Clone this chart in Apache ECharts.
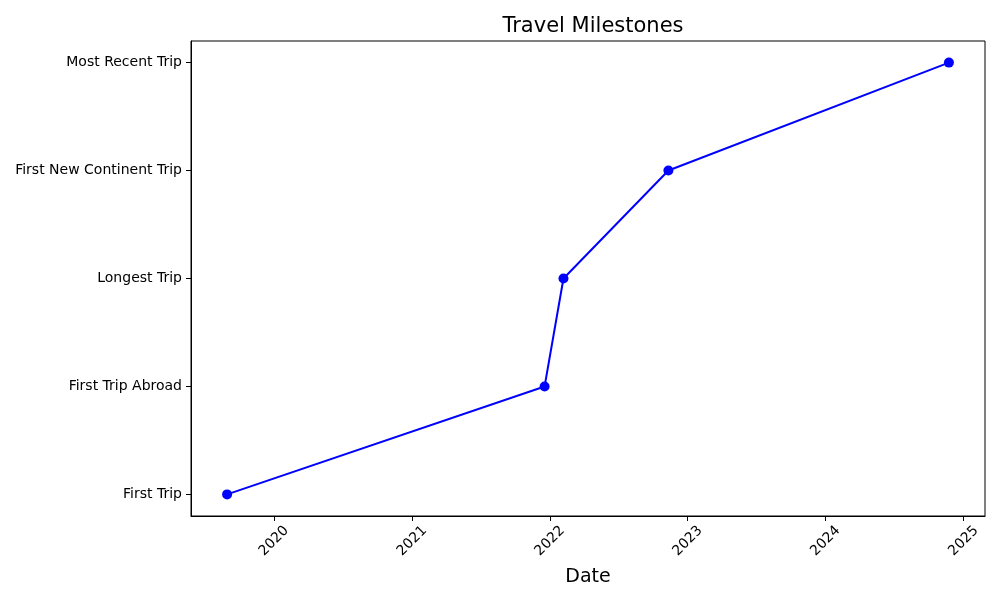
<!DOCTYPE html>
<html>
<head>
<meta charset="utf-8">
<script src="https://cdn.jsdelivr.net/npm/echarts@6/dist/echarts.min.js"></script>
<style>html,body{margin:0;padding:0;background:#fff;}#c{width:1000px;height:600px;}</style>
</head>
<body>
<div id="c"></div>
<script>
var milestones = ['First Trip', 'First Trip Abroad', 'Longest Trip', 'First New Continent Trip', 'Most Recent Trip'];
var dates = ['2019-08-30', '2021-12-18', '2022-02-06', '2022-11-11', '2024-11-23'];
var yearTicks = [2020, 2021, 2022, 2023, 2024, 2025];

function ts(s) { var p = s.split('-'); return new Date(+p[0], +p[1] - 1, +p[2]).getTime(); }
var times = dates.map(ts);
var tMin = Math.min.apply(null, times), tMax = Math.max.apply(null, times);
var pad = (tMax - tMin) * 0.05;
var data = times.map(function (t, i) { return [t, i]; });
var yearTs = yearTicks.map(function (y) { return new Date(y, 0, 1).getTime(); });

var font = 'DejaVu Sans';
var chart = echarts.init(document.getElementById('c'), null, { renderer: 'canvas' });
chart.setOption({
  animation: false,
  backgroundColor: '#fff',
  title: {
    text: 'Travel Milestones',
    left: 588, top: 11, textAlign: 'center',
    textStyle: { fontFamily: font, fontSize: 21, fontWeight: 'normal', color: '#000' }
  },
  grid: { left: 191, right: 15, top: 41, bottom: 84, show: true, borderColor: '#000', borderWidth: 1, backgroundColor: 'transparent' },
  xAxis: {
    type: 'value',
    min: tMin - pad, max: tMax + pad,
    name: 'Date', nameLocation: 'middle', nameGap: 52,
    nameTextStyle: { fontFamily: font, fontSize: 19, color: '#000' },
    axisLine: { show: true, onZero: false, lineStyle: { color: '#000', width: 1 } },
    axisTick: { show: true, length: 5, lineStyle: { color: '#000' }, customValues: yearTs },
    axisLabel: {
      customValues: yearTs,
      rotate: 45, align: 'center', verticalAlign: 'middle', margin: 25,
      fontFamily: font, fontSize: 14, color: '#000',
      formatter: function (v) { return String(new Date(v).getFullYear()); }
    },
    splitLine: { show: false }
  },
  yAxis: {
    type: 'value',
    min: -0.2, max: 4.2,
    axisLine: { show: true, onZero: false, lineStyle: { color: '#000', width: 1 } },
    axisTick: { show: true, length: 5, lineStyle: { color: '#000' }, customValues: [0, 1, 2, 3, 4] },
    axisLabel: {
      customValues: [0, 1, 2, 3, 4],
      margin: 9,
      fontFamily: font, fontSize: 14, color: '#000',
      formatter: function (v) { return milestones[Math.round(v)]; }
    },
    splitLine: { show: false }
  },
  series: [{
    type: 'line',
    data: data,
    symbol: 'circle', symbolSize: 10,
    itemStyle: { color: '#0000ff' },
    lineStyle: { color: '#0000ff', width: 2 }
  }]
});
</script>
</body>
</html>
